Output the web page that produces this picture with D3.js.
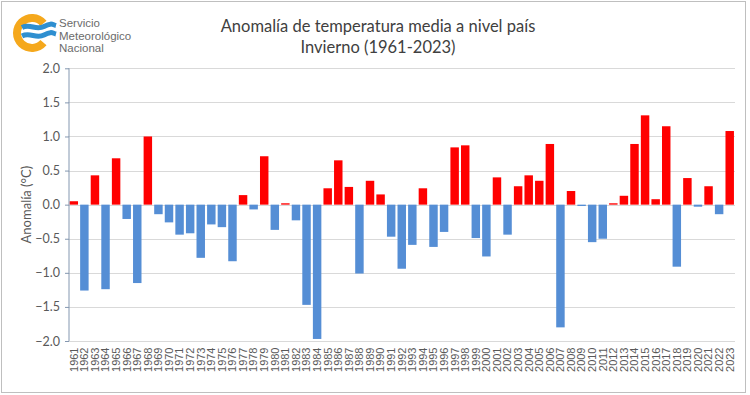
<!DOCTYPE html>
<html>
<head>
<meta charset="utf-8">
<script src="https://cdn.jsdelivr.net/npm/d3@7"></script>
<style>
  body { margin: 0; background: #fff; }
  svg { display: block; }
</style>
</head>
<body>
<svg id="chart" width="750" height="395"></svg>
<script>
// valores
var years = d3.range(1961, 2024);
var anomalies = [
  0.05, -1.26, 0.43, -1.24, 0.68, -0.21, -1.15, 1.00, -0.14, -0.26,
  -0.44, -0.42, -0.78, -0.29, -0.33, -0.83, 0.14, -0.07, 0.71, -0.37,
  0.02, -0.23, -1.47, -1.97, 0.24, 0.65, 0.26, -1.01, 0.35, 0.15,
  -0.47, -0.94, -0.59, 0.24, -0.62, -0.40, 0.84, 0.87, -0.49, -0.76,
  0.40, -0.44, 0.27, 0.43, 0.35, 0.89, -1.80, 0.20, -0.02, -0.55,
  -0.50, 0.02, 0.13, 0.89, 1.31, 0.08, 1.15, -0.91, 0.39, -0.03,
  0.27, -0.14, 1.08
];
var yTicks = [-2.0, -1.5, -1.0, -0.5, 0.0, 0.5, 1.0, 1.5, 2.0];
var titleLines = ['Anomalía de temperatura media a nivel país', 'Invierno (1961-2023)'];
var logoLines = ['Servicio', 'Meteorológico', 'Nacional'];

var svg = d3.select('#chart');

// marco
svg.append('rect').attr('x', 1.5).attr('y', 1.5).attr('width', 744).attr('height', 391)
  .attr('fill', '#fff').attr('stroke', '#bfbfbf');

var plotLeft = 68.5, plotRight = 735, plotTop = 68.3, plotBottom = 341;

var x = d3.scaleBand().domain(years).range([plotLeft, plotRight]).paddingInner(0.2).paddingOuter(0.1);
var y = d3.scaleLinear().domain([-2, 2]).range([plotBottom, plotTop]);

// grilla
svg.append('g').selectAll('line').data(yTicks).join('line')
  .attr('x1', plotLeft).attr('x2', plotRight)
  .attr('y1', function (d) { return Math.round(y(d)) + 0.5; })
  .attr('y2', function (d) { return Math.round(y(d)) + 0.5; })
  .attr('stroke', '#d9d9d9');

// barras
svg.append('g').selectAll('rect').data(anomalies).join('rect')
  .attr('x', function (d, i) { return x(years[i]); })
  .attr('width', x.bandwidth())
  .attr('y', function (d) { return y(Math.max(0, d)); })
  .attr('height', function (d) { return Math.abs(y(d) - y(0)); })
  .attr('fill', function (d) { return d >= 0 ? '#ff0000' : '#558ed5'; });

// eje y
var yAxis = svg.append('g').attr('transform', 'translate(' + (plotLeft + 0.5) + ',0)')
  .call(d3.axisLeft(y).tickValues(yTicks).tickSize(4).tickPadding(5)
    .tickFormat(d3.format('.1f')));
yAxis.selectAll('path,line').attr('stroke', '#8497b0');
yAxis.select('.domain').attr('d', 'M0,' + plotTop + 'V' + plotBottom);
yAxis.selectAll('text').attr('fill', '#595959').style('font-family', 'Lato, sans-serif').style('font-size', '12.5px');

// eje x
var xAxis = svg.append('g').attr('transform', 'translate(0,' + (plotBottom + 0.5) + ')')
  .call(d3.axisBottom(x).tickSize(0).tickPadding(6));
xAxis.select('.domain').remove();
xAxis.selectAll('text')
  .attr('transform', 'rotate(-90)')
  .attr('x', -6).attr('y', 0).attr('dy', '0.35em')
  .attr('text-anchor', 'end')
  .attr('fill', '#595959')
  .style('font-family', '"Liberation Sans", Arial, sans-serif')
  .style('font-size', '11px');

// titulo
svg.append('text').attr('text-anchor', 'middle')
  .attr('fill', '#404040').style('font-family', 'Lato, sans-serif').style('font-size', '16.5px')
  .selectAll('tspan').data(titleLines).join('tspan')
  .attr('x', 378).attr('y', function (d, i) { return 32 + i * 21; })
  .text(function (d) { return d; });

// etiqueta eje y
svg.append('text')
  .attr('transform', 'translate(31,' + y(0) + ') rotate(-90)')
  .attr('text-anchor', 'middle')
  .attr('fill', '#595959').style('font-family', 'Lato, sans-serif').style('font-size', '13px')
  .text('Anomalía (°C)');

// logo
var logo = svg.append('g');
logo.append('path')
  .attr('transform', 'translate(32,33)')
  .attr('d', d3.arc().innerRadius(11).outerRadius(19)
    .startAngle(Math.PI * 0.5 + 0.7).endAngle(Math.PI * 2.5 - 0.7)())
  .attr('fill', '#f5a81c');
[27.5, 36].forEach(function (yy) {
  logo.append('path')
    .attr('d', 'M22,' + yy + ' C30,' + (yy - 4) + ' 36,' + (yy + 3) + ' 44,' + (yy - 1) +
      ' S52,' + (yy - 3) + ' 56,' + (yy - 2))
    .attr('fill', 'none').attr('stroke', '#2f8fd0').attr('stroke-width', 5);
});
logo.append('text').attr('fill', '#6b6b6b')
  .style('font-family', '"Liberation Sans", Arial, sans-serif').style('font-size', '11.5px')
  .selectAll('tspan').data(logoLines).join('tspan')
  .attr('x', 59).attr('y', function (d, i) { return 27 + i * 12.5; })
  .text(function (d) { return d; });
</script>
</body>
</html>
